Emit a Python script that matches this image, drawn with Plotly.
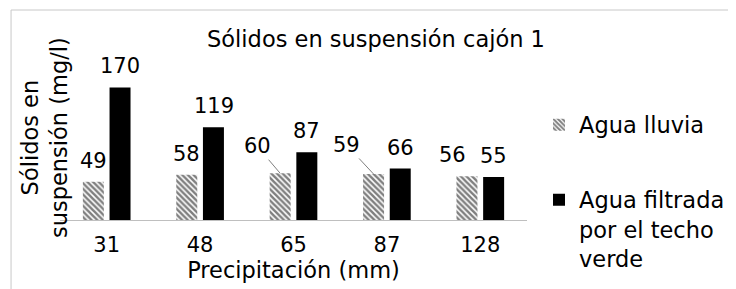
import plotly.graph_objects as go

categories = ["31", "48", "65", "87", "128"]
agua_lluvia = [49, 58, 60, 59, 56]
agua_filtrada = [170, 119, 87, 66, 55]
series_names = ["Agua lluvia", "Agua filtrada<br>por el techo<br>verde"]
title_text = "Sólidos en suspensión cajón 1"
x_title = "Precipitación (mm)"
y_title = "Sólidos en<br>suspensión (mg/l)"

W, H = 736, 289
ML, MR, MT, MB = 52, 216.5, 56, 77
PW = W - ML - MR
PH = H - MT - MB
FONT = "DejaVu Sans"
NUM_SIZE = 21
TXT_SIZE = 22.5
BAR_SHIFT = 13.4
LABEL_SHIFT = 21
# labels moved by hand in the original, with leader lines: (series, index) -> pixel offset
leader_offsets = {(0, 2): (-23, -27), (0, 3): (-27, -29)}
# labels nudged sideways without leader line
nudges = {(0, 4): -14}

fig = go.Figure()
fig.add_trace(go.Bar(
    x=categories, y=agua_lluvia, name=series_names[0],
    marker=dict(color="white", line=dict(width=0),
                pattern=dict(shape="\\", fgcolor="black", bgcolor="white", size=4, solidity=0.62)),
    legend="legend",
))
fig.add_trace(go.Bar(
    x=categories, y=agua_filtrada, name=series_names[1],
    marker=dict(color="black", line=dict(width=0)),
    legend="legend2",
))

annotations = []
for si, (vals, sign) in enumerate([(agua_lluvia, -1), (agua_filtrada, 1)]):
    for j, v in enumerate(vals):
        key = (si, j)
        if key in leader_offsets:
            ax, ay = leader_offsets[key]
            annotations.append(dict(
                x=j, y=v, xref="x", yref="y", xshift=sign * BAR_SHIFT,
                text=str(v), showarrow=True, arrowhead=0, arrowwidth=1,
                arrowcolor="#7f7f7f", ax=ax, ay=ay, standoff=0,
                font=dict(family=FONT, size=NUM_SIZE, color="black"),
            ))
        else:
            annotations.append(dict(
                x=j, y=v, xref="x", yref="y",
                xshift=sign * BAR_SHIFT + nudges.get(key, 0),
                yshift=LABEL_SHIFT, yanchor="middle",
                text=str(v), showarrow=False,
                font=dict(family=FONT, size=NUM_SIZE, color="black"),
            ))

annotations.append(dict(
    text=y_title, xref="paper", yref="paper", x=0, y=0.5,
    xshift=-16, yshift=4, xanchor="center", yanchor="middle",
    textangle=-90, showarrow=False,
    font=dict(family=FONT, size=TXT_SIZE, color="black"),
))

fig.update_layout(
    width=W, height=H,
    margin=dict(l=ML, r=MR, t=MT, b=MB, pad=0, autoexpand=False),
    paper_bgcolor="white", plot_bgcolor="white",
    showlegend=True,
    barmode="group", bargap=0.429, bargroupgap=0.213,
    title=dict(text=title_text, x=0.5, xref="container", xanchor="center",
               y=1 - 31 / H, yref="container", yanchor="middle",
               font=dict(family=FONT, size=TXT_SIZE, color="black")),
    xaxis=dict(type="category", range=[-0.5, len(categories) - 0.5],
               showline=True, linecolor="#bfbfbf", linewidth=1,
               showgrid=False, zeroline=False,
               ticks="outside", ticklen=6, tickcolor="rgba(0,0,0,0)",
               tickfont=dict(family=FONT, size=NUM_SIZE, color="black"),
               title=dict(text=x_title, standoff=5,
                          font=dict(family=FONT, size=TXT_SIZE, color="black"))),
    yaxis=dict(range=[0, 200], showline=False, showgrid=False, zeroline=False,
               showticklabels=False, ticks=""),
    legend=dict(xref="container", yref="container",
                x=531 / W, y=1 - 117 / H, xanchor="left", yanchor="middle",
                font=dict(family=FONT, size=TXT_SIZE, color="black"),
                bgcolor="rgba(0,0,0,0)", visible=True),
    legend2=dict(xref="container", yref="container",
                 x=531 / W, y=1 - 221 / H, xanchor="left", yanchor="middle",
                 valign="top", visible=True,
                 font=dict(family=FONT, size=TXT_SIZE, color="black"),
                 bgcolor="rgba(0,0,0,0)"),
    annotations=annotations,
    shapes=[dict(type="rect", xref="paper", yref="paper",
                 x0=(3 - ML) / PW, x1=(733 - ML) / PW,
                 y0=(MT + PH - 287) / PH, y1=(MT + PH - 2) / PH,
                 line=dict(color="#c8c8c8", width=1), fillcolor="rgba(0,0,0,0)", layer="below")],
)

fig.write_html("out.html")
